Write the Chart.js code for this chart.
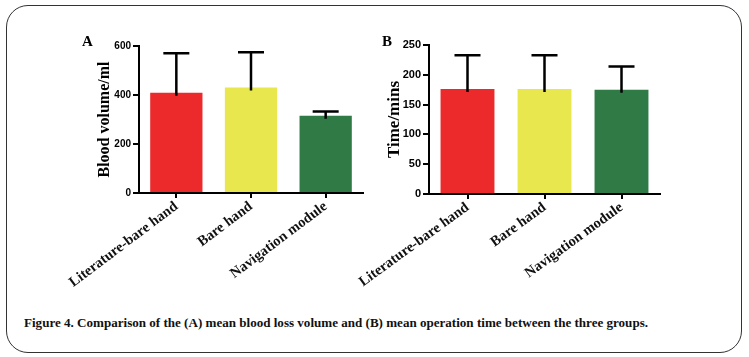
<!DOCTYPE html>
<html><head><meta charset="utf-8">
<script src="https://cdn.jsdelivr.net/npm/chart.js@4.4.1/dist/chart.umd.min.js"></script>
<style>
html,body{margin:0;padding:0;background:#fff;}
#wrap{position:relative;width:749px;height:357px;overflow:hidden;background:#fff;}
#frame{position:absolute;left:6.25px;top:5.25px;width:736px;height:347.5px;border:1.5px solid #333;border-radius:22px;box-sizing:border-box;}
canvas{position:absolute;top:0;}
#cA{left:0;}
#cB{left:355px;}
.panel{position:absolute;font-family:"Liberation Serif","Times New Roman",serif;font-weight:bold;font-size:15px;color:#000;}
#caption{position:absolute;left:24px;top:315px;line-height:16px;font-family:"Liberation Serif","Times New Roman",serif;font-weight:bold;font-size:12.5px;color:#111;white-space:nowrap;transform-origin:left center;}
</style>
</head><body>
<div id="wrap">
<div id="frame"></div>
<canvas id="cA" width="370" height="300"></canvas>
<canvas id="cB" width="394" height="300"></canvas>
<div class="panel" style="left:82px;top:33px;">A</div>
<div class="panel" style="left:382px;top:33px;">B</div>
<div id="caption">Figure 4. Comparison of the (A) mean blood loss volume and (B) mean operation time between the three groups.</div>
</div>
<script>
const categories = ['Literature-bare hand', 'Bare hand', 'Navigation module'];
const bloodMean = [409, 431, 315];
const bloodSD = [161, 143, 18];
const timeMean = [176, 176, 175];
const timeSD = [57, 57, 39];
const bloodTicks = [0, 200, 400, 600];
const timeTicks = [0, 50, 100, 150, 200, 250];
const barColors = ['#EC2A2B', '#E8E84E', '#2F7A45'];

const cap = document.getElementById('caption');
const capW = cap.getBoundingClientRect().width;
cap.style.transform = 'scaleX(' + (624 / capW) + ')';

const errorBars = {
  id: 'errorBars',
  afterDatasetsDraw(chart, args, opts) {
    const ctx = chart.ctx;
    const meta = chart.getDatasetMeta(0);
    const ys = chart.scales.y;
    const sds = opts.sds;
    const means = chart.data.datasets[0].data;
    ctx.save();
    ctx.strokeStyle = '#000';
    ctx.lineWidth = 2.5;
    meta.data.forEach((bar, i) => {
      const x = bar.x;
      const yTop = ys.getPixelForValue(means[i] + sds[i]);
      const yMean = ys.getPixelForValue(means[i]) + 3;
      ctx.beginPath();
      ctx.moveTo(x, yMean);
      ctx.lineTo(x, yTop);
      ctx.moveTo(x - opts.cap / 2, yTop);
      ctx.lineTo(x + opts.cap / 2, yTop);
      ctx.stroke();
    });
    ctx.restore();
  }
};

function makeChart(id, means, sds, ticks, max, title, cfg) {
  return new Chart(document.getElementById(id), {
    type: 'bar',
    data: {
      labels: categories,
      datasets: [{
        data: means,
        backgroundColor: barColors,
        borderWidth: 0,
        barPercentage: 0.7,
        categoryPercentage: 1.0
      }]
    },
    options: {
      responsive: false,
      animation: false,
      devicePixelRatio: 1,
      layout: { padding: { top: cfg.top, right: cfg.right, left: 0, bottom: 0 } },
      plugins: {
        legend: { display: false },
        tooltip: { enabled: false },
        errorBars: { sds: sds, cap: 26 }
      },
      scales: {
        x: {
          afterFit(s) { s.height = cfg.xh; s.paddingLeft = 0; s.paddingRight = 0; },
          grid: { display: true, drawOnChartArea: false, drawTicks: true, tickLength: 5, color: '#000', lineWidth: 2, offset: false },
          border: { display: true, color: '#000', width: 2 },
          ticks: {
            color: '#111',
            maxRotation: cfg.rot, minRotation: cfg.rot,
            padding: 0,
            font: { family: '"Liberation Serif","Times New Roman",serif', weight: 'bold', size: 14.5 }
          }
        },
        y: {
          min: 0, max: max,
          afterFit(s) { s.width = cfg.yw; },
          afterBuildTicks(s) { s.ticks = ticks.map(v => ({ value: v })); },
          grid: { display: true, drawOnChartArea: false, drawTicks: true, tickLength: 6, color: '#000', lineWidth: 2 },
          border: { display: true, color: '#000', width: 2 },
          ticks: {
            color: '#000', padding: 2,
            font: { family: '"Liberation Sans",Arial,sans-serif', weight: 'bold', size: cfg.tickSize }
          },
          title: {
            display: true, text: title, color: '#000',
            padding: { top: cfg.titleX - cfg.titleSize * 0.6, bottom: 0 },
            font: { family: '"Liberation Serif","Times New Roman",serif', weight: 'bold', size: cfg.titleSize }
          }
        }
      }
    },
    plugins: [errorBars]
  });
}

makeChart('cA', bloodMean, bloodSD, bloodTicks, 600, 'Blood volume/ml',
  { top: 46, right: 7, xh: 107, yw: 139, rot: 37, tickSize: 10, titleSize: 16, titleX: 105 });
makeChart('cB', timeMean, timeSD, timeTicks, 250, 'Time/mins',
  { top: 45, right: 89, xh: 106, yw: 74, rot: 36, tickSize: 11, titleSize: 17, titleX: 40 });
</script>
</body></html>
